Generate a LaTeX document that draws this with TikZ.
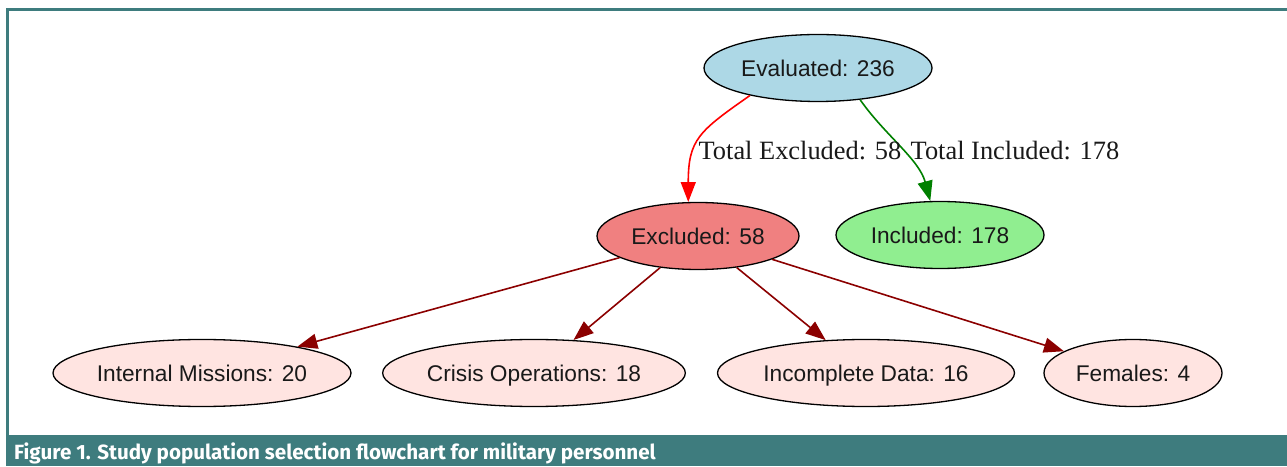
\documentclass[tikz,border=0pt]{standalone}
\usepackage{fontspec}
\newfontfamily\nodefont{Liberation Sans}
\newfontfamily\edgefont{Liberation Serif}
\newfontfamily\capfont{Fira Sans}
\usetikzlibrary{shapes.geometric, arrows.meta}
\definecolor{frameteal}{HTML}{3E7C7E}
\definecolor{evalblue}{HTML}{ADD8E6}
\definecolor{exclred}{HTML}{F08080}
\definecolor{inclgreen}{HTML}{90EE90}
\definecolor{rose}{HTML}{FFE4E1}
\definecolor{darkred}{HTML}{8B0000}
\definecolor{okgreen}{HTML}{008000}
\tikzset{
    stage/.style 2 args={
        ellipse, draw=black, line width=1.3pt, fill=#1,
        minimum width=#2, minimum height=67pt, inner sep=0pt,
        text height=16.3pt, text depth=0pt,
        text=black!90, font=\nodefont\fontsize{22.7}{26}\selectfont
    },
    cut/.style={draw=#1, line width=1.6pt, -{Triangle[length=20pt,width=15pt]}},
    edgelabel/.style={inner sep=0pt, text=black!90, font=\edgefont\fontsize{26.4}{30}\selectfont},
}

\begin{document}
\begin{tikzpicture}[x=1pt, y=1pt]
    \useasboundingbox (0,0) rectangle (1287,466);

    % frame and caption
    \fill[frameteal] (6,0) rectangle (1287,31);
    \draw[frameteal, line width=3pt] (7.5,31) |- (1287,456);
    \node[anchor=base west, inner sep=0pt, text=white, font=\capfont\bfseries\fontsize{20.6}{24}\selectfont] (caption) at (14,7)
        {Figure 1. Study population selection flowchart for military personnel};

    \node[stage={evalblue}{228pt}] (eval) at (818,398) {Evaluated: 236};
    \node[stage={exclred}{202pt}] (excl) at (698,230) {Excluded: 58};
    \node[stage={inclgreen}{208pt}] (incl) at (940,231) {Included: 178};

    \node[stage={rose}{298pt}] (internal) at (202,93) {Internal Missions: 20};
    \node[stage={rose}{302pt}] (crisis) at (534,93) {Crisis Operations: 18};
    \node[stage={rose}{297pt}] (incomplete) at (866,93) {Incomplete Data: 16};
    \node[stage={rose}{178pt}] (females) at (1133,93) {Females: 4};

    \draw[cut=red] (eval.202) to[out=215, in=90, looseness=1.3] (excl.106);
    \draw[cut=okgreen] (eval.-37) to[out=-55, in=105, looseness=0.9] (incl.106);
    \node[edgelabel] (exlabel) at (800,315) {Total Excluded: 58};
    \node[edgelabel] (inlabel) at (1015,315) {Total Included: 178};

    \foreach \child in {internal, crisis, incomplete, females}
        \draw[cut=darkred] (excl) -- (\child);
\end{tikzpicture}
\end{document}
